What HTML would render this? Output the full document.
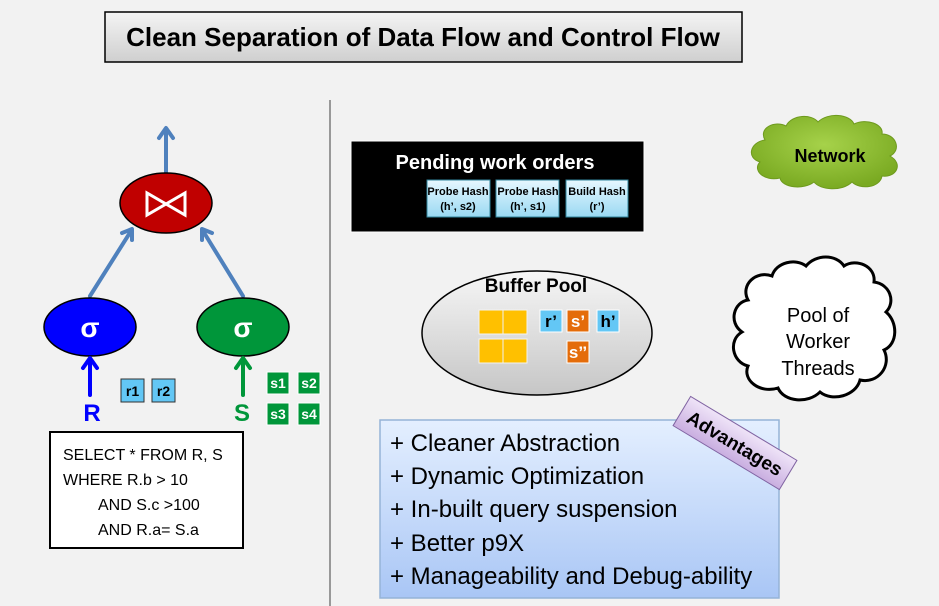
<!DOCTYPE html>
<html><head><meta charset="utf-8"><style>
html,body{margin:0;padding:0;background:#f2f2f2;}
svg{display:block;font-family:"Liberation Sans",sans-serif;}
</style></head><body>
<svg width="939" height="606" viewBox="0 0 939 606" xmlns="http://www.w3.org/2000/svg">
<defs>
<linearGradient id="tg" x1="0" y1="0" x2="0" y2="1"><stop offset="0" stop-color="#f4f4f4"/><stop offset="1" stop-color="#cfcfcf"/></linearGradient>
<linearGradient id="bp" x1="0" y1="0" x2="0" y2="1"><stop offset="0" stop-color="#f6f6f6"/><stop offset="1" stop-color="#c6c6c6"/></linearGradient>
<linearGradient id="lb" x1="0" y1="0" x2="0" y2="1"><stop offset="0" stop-color="#e6f7ff"/><stop offset="1" stop-color="#9ad9f2"/></linearGradient>
<linearGradient id="adv" x1="0" y1="0" x2="0" y2="1"><stop offset="0" stop-color="#e4efff"/><stop offset="1" stop-color="#a9c6f5"/></linearGradient>
<linearGradient id="pu" x1="0" y1="0" x2="0" y2="1"><stop offset="0" stop-color="#efe4f8"/><stop offset="1" stop-color="#c9aee0"/></linearGradient>
<radialGradient id="ng" cx="0.5" cy="0.4" r="0.6"><stop offset="0" stop-color="#a6d24a"/><stop offset="1" stop-color="#7aaa22"/></radialGradient>
</defs>

<rect x="105" y="12" width="637" height="50" fill="url(#tg)" stroke="#000" stroke-width="1.5"/>
<text x="423" y="46" font-size="26" font-weight="bold" text-anchor="middle">Clean Separation of Data Flow and Control Flow</text>

<line x1="330" y1="100" x2="330" y2="606" stroke="#999" stroke-width="2"/>

<!-- left tree arrows -->
<g stroke="#4f81bd" stroke-width="4" fill="none" stroke-linecap="round" stroke-linejoin="round">
<line x1="166" y1="173" x2="166" y2="130"/><polyline points="159,138 166,128 173,138"/>
<line x1="90" y1="296" x2="131" y2="231"/><polyline points="122,233 132,229 132,240"/>
<line x1="243" y1="296" x2="203" y2="231"/><polyline points="202,240 202,229 212,233"/>
</g>
<ellipse cx="166" cy="203" rx="46" ry="30" fill="#c00000" stroke="#000" stroke-width="1.5"/>
<path d="M147,193 L147,215 L185,193 L185,215 Z" fill="none" stroke="#fff" stroke-width="3"/>
<ellipse cx="90" cy="327" rx="46" ry="29" fill="#0000ff" stroke="#000" stroke-width="1.5"/>
<ellipse cx="243" cy="327" rx="46" ry="29" fill="#00963a" stroke="#000" stroke-width="1.5"/>
<text x="90" y="337" font-size="28" font-weight="bold" fill="#fff" text-anchor="middle">σ</text>
<text x="243" y="337" font-size="28" font-weight="bold" fill="#fff" text-anchor="middle">σ</text>
<g stroke-width="4" fill="none" stroke-linecap="round" stroke-linejoin="round">
<line x1="90" y1="395" x2="90" y2="360" stroke="#0000ff"/><polyline points="83,368 90,358 97,368" stroke="#0000ff"/>
<line x1="243" y1="395" x2="243" y2="360" stroke="#00963a"/><polyline points="236,368 243,358 250,368" stroke="#00963a"/>
</g>
<text x="92" y="421" font-size="24" font-weight="bold" fill="#0000ff" text-anchor="middle">R</text>
<text x="242" y="421" font-size="24" font-weight="bold" fill="#00963a" text-anchor="middle">S</text>
<g font-size="14" font-weight="bold" text-anchor="middle">
<rect x="121" y="379" width="23" height="23" fill="#63c7f5" stroke="#333"/><text x="132.5" y="396">r1</text>
<rect x="152" y="379" width="23" height="23" fill="#63c7f5" stroke="#333"/><text x="163.5" y="396">r2</text>
<g fill="#fff">
<rect x="267" y="372" width="22" height="22" fill="#00963a" stroke="#fff"/><text x="278" y="388">s1</text>
<rect x="298" y="372" width="22" height="22" fill="#00963a" stroke="#fff"/><text x="309" y="388">s2</text>
<rect x="267" y="403" width="22" height="22" fill="#00963a" stroke="#fff"/><text x="278" y="419">s3</text>
<rect x="298" y="403" width="22" height="22" fill="#00963a" stroke="#fff"/><text x="309" y="419">s4</text>
</g></g>
<rect x="50" y="432" width="193" height="116" fill="#fff" stroke="#000" stroke-width="2"/>
<g font-size="16"><text x="63" y="460">SELECT * FROM R, S</text><text x="63" y="485">WHERE R.b &gt; 10</text><text x="98" y="510">AND S.c &gt;100</text><text x="98" y="535">AND R.a= S.a</text></g>

<rect x="351" y="141" width="293" height="91" fill="#000" stroke="#fff"/>
<text x="495" y="169" font-size="20" font-weight="bold" fill="#fff" text-anchor="middle">Pending work orders</text>
<g font-size="11" font-weight="bold" text-anchor="middle">
<rect x="427" y="180" width="63" height="37" fill="url(#lb)" stroke="#31859c"/><text x="458" y="195">Probe Hash</text><text x="458" y="210">(h’, s2)</text>
<rect x="496" y="180" width="63" height="37" fill="url(#lb)" stroke="#31859c"/><text x="528" y="195">Probe Hash</text><text x="528" y="210">(h’, s1)</text>
<rect x="566" y="180" width="62" height="37" fill="url(#lb)" stroke="#31859c"/><text x="597" y="195">Build Hash</text><text x="597" y="210">(r’)</text>
</g>

<ellipse cx="537" cy="333" rx="115" ry="62" fill="url(#bp)" stroke="#000" stroke-width="1.5"/>
<text x="536" y="292" font-size="19" font-weight="bold" text-anchor="middle">Buffer Pool</text>
<g fill="#ffc000" stroke="#f2f2f2" stroke-width="1">
<rect x="479" y="310" width="24" height="24"/><rect x="503" y="310" width="24" height="24"/>
<rect x="479" y="339" width="24" height="24"/><rect x="503" y="339" width="24" height="24"/>
</g>
<g font-size="17" font-weight="bold" text-anchor="middle">
<rect x="540" y="310" width="22" height="22" fill="#63c7f5" stroke="#fff"/><text x="551" y="327">r’</text>
<rect x="567" y="310" width="22" height="22" fill="#e46c0a" stroke="#fff"/><text x="578" y="327" fill="#fff">s’</text>
<rect x="597" y="310" width="22" height="22" fill="#63c7f5" stroke="#fff"/><text x="608" y="327">h’</text>
<rect x="567" y="341" width="22" height="22" fill="#e46c0a" stroke="#fff"/><text x="578" y="358" fill="#fff">s’’</text>
</g>

<path d="M765,140 C758,128 775,120 786,126 C792,114 812,114 818,122 C828,112 850,114 854,124 C866,118 884,124 882,134 C896,134 902,150 890,156 C904,164 896,178 882,176 C880,188 860,190 852,182 C842,192 820,190 814,182 C804,190 782,188 780,178 C764,182 752,170 760,162 C746,158 750,142 765,140 Z" fill="url(#ng)" stroke="#6e9a1e" stroke-width="1"/>
<text x="830" y="162" font-size="18" font-weight="bold" text-anchor="middle">Network</text>

<path d="M748,300 C740,285 756,270 772,276 C776,262 796,258 806,266 C816,254 836,254 844,266 C856,258 876,266 874,282 C890,284 896,302 886,312 C898,322 898,344 884,350 C892,366 878,384 860,380 C856,396 832,402 820,392 C808,404 784,402 778,388 C760,394 742,380 748,366 C732,362 728,340 742,332 C728,322 734,302 748,300 Z" fill="#fff" stroke="#000" stroke-width="3"/>
<g font-size="20" text-anchor="middle"><text x="818" y="322">Pool of</text><text x="818" y="348">Worker</text><text x="818" y="375">Threads</text></g>

<rect x="380" y="420" width="399" height="178" fill="url(#adv)" stroke="#95b3d7" stroke-width="1.5"/>
<g font-size="24"><text x="390" y="451">+ Cleaner Abstraction</text><text x="390" y="484">+ Dynamic Optimization</text><text x="390" y="517">+ In-built query suspension</text><text x="390" y="551">+ Better p9X</text><text x="390" y="584">+ Manageability and Debug-ability</text></g>
<g transform="translate(735,443) rotate(31)">
<rect x="-62" y="-17" width="124" height="34" fill="url(#pu)" stroke="#8064a2"/>
<text x="0" y="7" font-size="19" font-weight="bold" text-anchor="middle">Advantages</text>
</g>
</svg>
</body></html>
